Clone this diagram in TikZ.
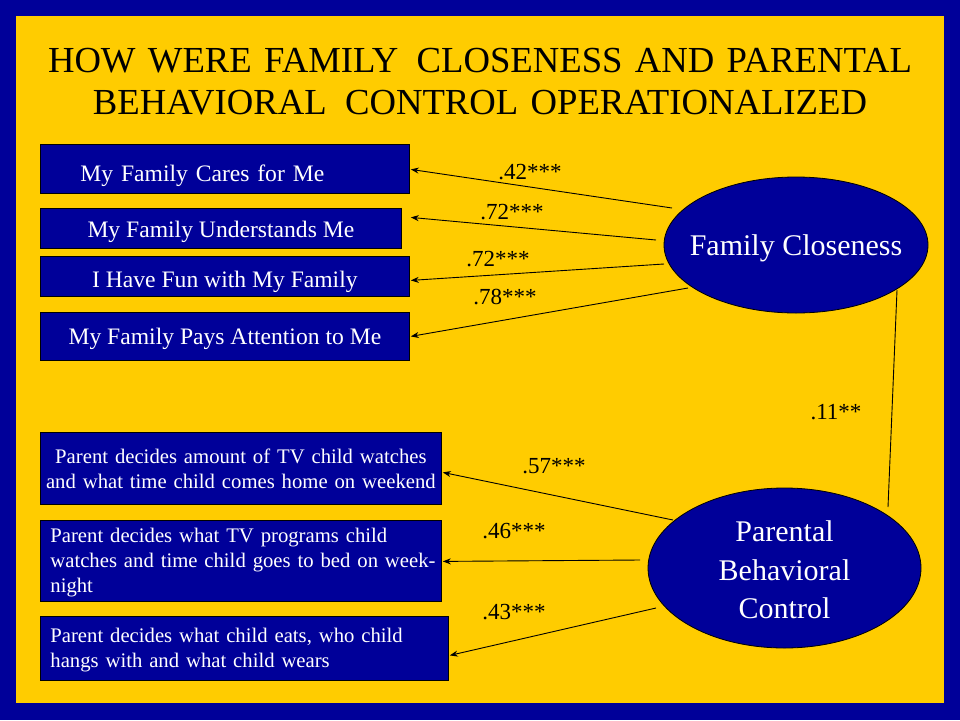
\documentclass[tikz,border=0pt]{standalone}
\usepackage{fontspec}
\setmainfont{Liberation Serif}
\usetikzlibrary{shapes.geometric,arrows.meta,calc}
\definecolor{navy}{RGB}{0,0,153}
\definecolor{gold}{RGB}{255,204,0}
\begin{document}
\begin{tikzpicture}[x=1pt,y=-1pt,
  boxnode/.style={draw=black, line width=0.8pt, fill=navy, text=white, inner ysep=0pt, anchor=north west, font=\fontsize{23.6}{28}\selectfont},
  smallbox/.style={draw=black, line width=0.8pt, fill=navy, text=white, inner ysep=0pt, anchor=north west, font=\fontsize{20.7}{25}\selectfont},
  latent/.style={ellipse, draw=black, line width=0.8pt, fill=navy, inner sep=0pt},
  lattext/.style={text=white, font=\fontsize{30}{38.5}\selectfont, align=center},
  coef/.style={font=\fontsize{23}{27}\selectfont, text=black, inner sep=0pt},
  link/.style={draw=black, line width=0.9pt},
  arr/.style={link, -{Stealth[length=8pt,width=6pt]}},
]
\fill[navy] (0,0) rectangle (960,720);
\fill[gold] (16,16) rectangle (944,703);
\useasboundingbox (0,0) rectangle (960,720);

\node[anchor=base, text width=920pt, align=center, inner sep=0pt,
      font=\fontsize{36.7}{42}\selectfont] (title) at (480,72)
  {HOW WERE FAMILY\hspace{0.5em}CLOSENESS AND PARENTAL\\BEHAVIORAL\hspace{0.5em}CONTROL OPERATIONALIZED};

% indicator boxes
\node[boxnode, text width=289pt, inner xsep=40pt, align=left, text height=37pt, text depth=12pt] (b1) at (40,144) {My Family Cares for Me};
\node[boxnode, minimum width=361pt, inner xsep=0pt, text height=29pt, text depth=11pt] (b2) at (40,208) {My Family Understands Me};
\node[boxnode, minimum width=369pt, inner xsep=0pt, text height=31pt, text depth=9pt] (b3) at (40,256) {I Have Fun with My Family};
\node[boxnode, minimum width=369pt, inner xsep=0pt, text height=32pt, text depth=16pt] (b4) at (40,312) {My Family Pays Attention to Me};

\node[smallbox, text width=393pt, inner xsep=4pt, align=center, text height=31pt, text depth=41pt] (b5) at (40,432)
  {\mbox{Parent decides amount of TV child watches}\\\mbox{and what time child comes home on weekend}};
\node[smallbox, text width=381pt, inner xsep=10pt, align=left, text height=22pt, text depth=59pt] (b6) at (40,520)
  {\mbox{Parent decides what TV programs child}\\\mbox{watches and time child goes to bed on week-}\\\mbox{night}};
\node[smallbox, text width=388pt, inner xsep=10pt, align=left, text height=26pt, text depth=38pt] (b7) at (40,616)
  {\mbox{Parent decides what child eats, who child}\\\mbox{hangs with and what child wears}};

% latent variables
\node[latent, minimum width=264pt, minimum height=136pt,
      label={[lattext, yshift=-3pt]center:Family Closeness}] (fc) at (796,245) {};
\node[latent, minimum width=273pt, minimum height=160pt,
      label={[lattext, yshift=-2pt]center:Parental\\Behavioral\\Control}] (pbc) at (784.5,568) {};

% connectors
\draw[arr] ($(fc.center)+(-124,-37)$) -- ($(b1.east)+(1,0.5)$);
\draw[arr] ($(fc.center)+(-140,-5)$) -- ($(b2.east)+(9,-11)$);
\draw[arr] ($(fc.center)+(-132,19)$) -- ($(b3.east)+(1,4)$);
\draw[arr] ($(fc.center)+(-108,43)$) -- ($(b4.east)+(1,0)$);
\draw[link] ($(fc.center)+(101,45)$) -- ($(pbc.center)+(103.5,-61)$);
\draw[arr] ($(pbc.center)+(-111.5,-48)$) -- ($(b5.east)+(1,4)$);
\draw[arr] ($(pbc.center)+(-144.5,-8)$) -- ($(b6.east)+(1,0.5)$);
\draw[arr] ($(pbc.center)+(-128.5,40)$) -- ($(b7.east)+(1,7)$);

% coefficients
\node[coef] (c1) at (530,172) {.42***};
\node[coef] (c2) at (512,212) {.72***};
\node[coef] (c3) at (498,259) {.72***};
\node[coef] (c4) at (505,297) {.78***};
\node[coef] (c5) at (554,466) {.57***};
\node[coef] (c6) at (514,531) {.46***};
\node[coef] (c7) at (514,612) {.43***};
\node[coef] (c8) at (836,412) {.11**};
\end{tikzpicture}
\end{document}
